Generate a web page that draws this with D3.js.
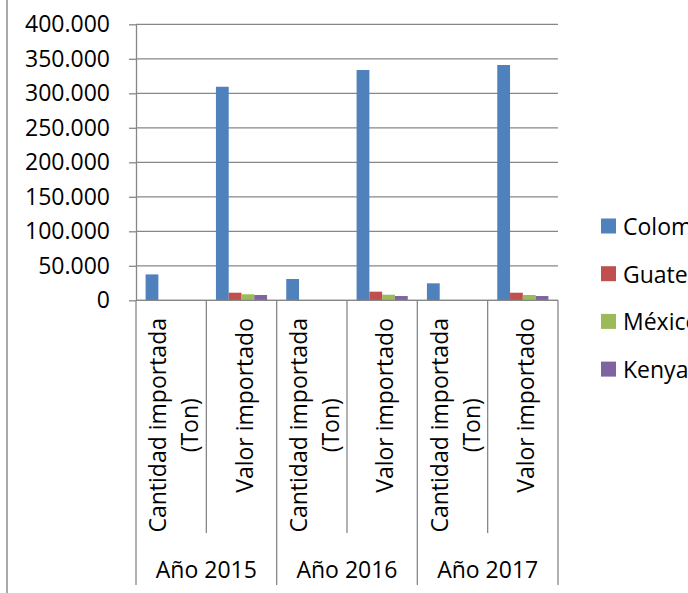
<!DOCTYPE html>
<html><head><meta charset="utf-8">
<script src="https://cdn.jsdelivr.net/npm/d3@7"></script>
<style>
body{margin:0;background:#fff;overflow:hidden;}
svg{display:block;}
text{font-family:"Open Sans",sans-serif;fill:#000;}
</style>
</head><body>
<svg id="chart" width="688" height="593"></svg>
<script>
// ---- data ----
const years = ["Año 2015", "Año 2016", "Año 2017"];
const measures = ["Cantidad importada (Ton)", "Valor importado"];
const measureLines = [["Cantidad importada", "(Ton)"], ["Valor importado"]];
const seriesNames = ["Colombia", "Guatemala", "México", "Kenya"];
const colombia  = [37500, 309500, 30900, 333800, 24600, 341000];
const guatemala = [300, 11000, 250, 12500, 200, 11000];
const mexico    = [200, 8700, 150, 8100, 150, 7700];
const kenya     = [150, 7700, 120, 6200, 100, 6200];
const yTicks = [0, 50000, 100000, 150000, 200000, 250000, 300000, 350000, 400000];
const colors = ["#4F81BD", "#C0504D", "#9BBB59", "#8064A2"];

const seriesValues = [colombia, guatemala, mexico, kenya];
const categories = [];
years.forEach((y, yi) => measures.forEach((m, mi) => categories.push({key: yi + "|" + mi, year: y, yi, mi})));

// ---- layout ----
const W = 688, H = 593;
const plotL = 136, plotR = 558, plotT = 24.3, plotB = 300.3;
const fontSize = 23;
const gridColor = "#878787";

const svg = d3.select("#chart");

// left border of chart area
svg.append("line").attr("x1", 7).attr("x2", 7).attr("y1", 0).attr("y2", H)
  .attr("stroke", "#8c8c8c").attr("stroke-width", 1.5);

const x0 = d3.scaleBand().domain(categories.map(c => c.key)).range([plotL, plotR]).paddingInner(0).paddingOuter(0);
const x1 = d3.scaleBand().domain(seriesNames).range([0, x0.bandwidth()]).paddingInner(0).paddingOuter(0.75);
const y = d3.scaleLinear().domain([0, 400000]).range([plotB, plotT]);

const loc = d3.formatLocale({decimal: ",", thousands: ".", grouping: [3], currency: ["", ""]});
const fmt = loc.format(",");

// gridlines
svg.append("g").selectAll("line").data(yTicks).join("line")
  .attr("x1", plotL).attr("x2", plotR)
  .attr("y1", d => y(d)).attr("y2", d => y(d))
  .attr("stroke", gridColor).attr("stroke-width", 1.3);

// bars
const gBars = svg.append("g");
categories.forEach((c, ci) => {
  gBars.selectAll(null).data(seriesNames.map((s, si) => ({s, si, v: seriesValues[si][ci]}))).join("rect")
    .attr("x", d => x0(c.key) + x1(d.s))
    .attr("width", x1.bandwidth())
    .attr("y", d => y(d.v))
    .attr("height", d => y(0) - y(d.v))
    .attr("fill", d => colors[d.si]);
});

// y axis
const yAxis = d3.axisLeft(y).tickValues(yTicks).tickFormat(fmt).tickSize(7).tickSizeOuter(0).tickPadding(19);
const gy = svg.append("g").attr("transform", `translate(${plotL},0)`).call(yAxis);
gy.selectAll("path,line").attr("stroke", gridColor).attr("stroke-width", 1.3);
gy.selectAll("text").style("font-family", '"Open Sans",sans-serif').style("font-size", fontSize + "px").attr("fill", "#000");

// x axis baseline
svg.append("line").attr("x1", plotL).attr("x2", plotR).attr("y1", y(0)).attr("y2", y(0))
  .attr("stroke", gridColor).attr("stroke-width", 1.3);

// category separators
const innerBottom = 533, outerBottom = 585;
const bounds = categories.map(c => x0(c.key)).concat([plotR]);
svg.append("g").selectAll("line").data(bounds).join("line")
  .attr("x1", d => d).attr("x2", d => d)
  .attr("y1", y(0))
  .attr("y2", (d, i) => (i % 2 === 0) ? outerBottom : innerBottom)
  .attr("stroke", gridColor).attr("stroke-width", 1.3);

// rotated category labels
const labelTop = 318;
const gCat = svg.append("g");
categories.forEach(c => {
  const lines = measureLines[c.mi];
  const cx = x0(c.key) + x0.bandwidth() / 2 + 2;
  const g = gCat.append("g");
  const texts = lines.map((ln, li) => g.append("text").text(ln)
    .style("font-size", fontSize + "px")
    .attr("text-anchor", "middle").attr("dominant-baseline", "central"));
  const maxLen = d3.max(texts, t => t.node().getComputedTextLength());
  const cy = labelTop + maxLen / 2;
  const lh = 32;
  texts.forEach((t, li) => {
    const off = (li - (lines.length - 1) / 2) * lh;
    t.attr("transform", `translate(${cx + off},${cy}) rotate(-90)`);
  });
});

// year labels
svg.append("g").selectAll("text").data(years).join("text")
  .attr("x", (d, i) => (x0(categories[i * 2].key) + x0(categories[i * 2 + 1].key) + x0.bandwidth()) / 2)
  .attr("y", 569)
  .attr("text-anchor", "middle").attr("dominant-baseline", "central")
  .style("font-size", fontSize + "px")
  .text(d => d);

// legend
const legX = 601, legY0 = 226, legStep = 47.7, sw = 15;
const gl = svg.append("g").selectAll("g").data(seriesNames).join("g")
  .attr("transform", (d, i) => `translate(${legX},${legY0 + i * legStep})`);
gl.append("rect").attr("x", 0).attr("y", -sw / 2).attr("width", sw).attr("height", sw)
  .attr("fill", (d, i) => colors[i]);
gl.append("text").attr("x", 22).attr("y", 0).attr("dominant-baseline", "central")
  .style("font-size", fontSize + "px").text(d => d);
</script>
</body></html>
